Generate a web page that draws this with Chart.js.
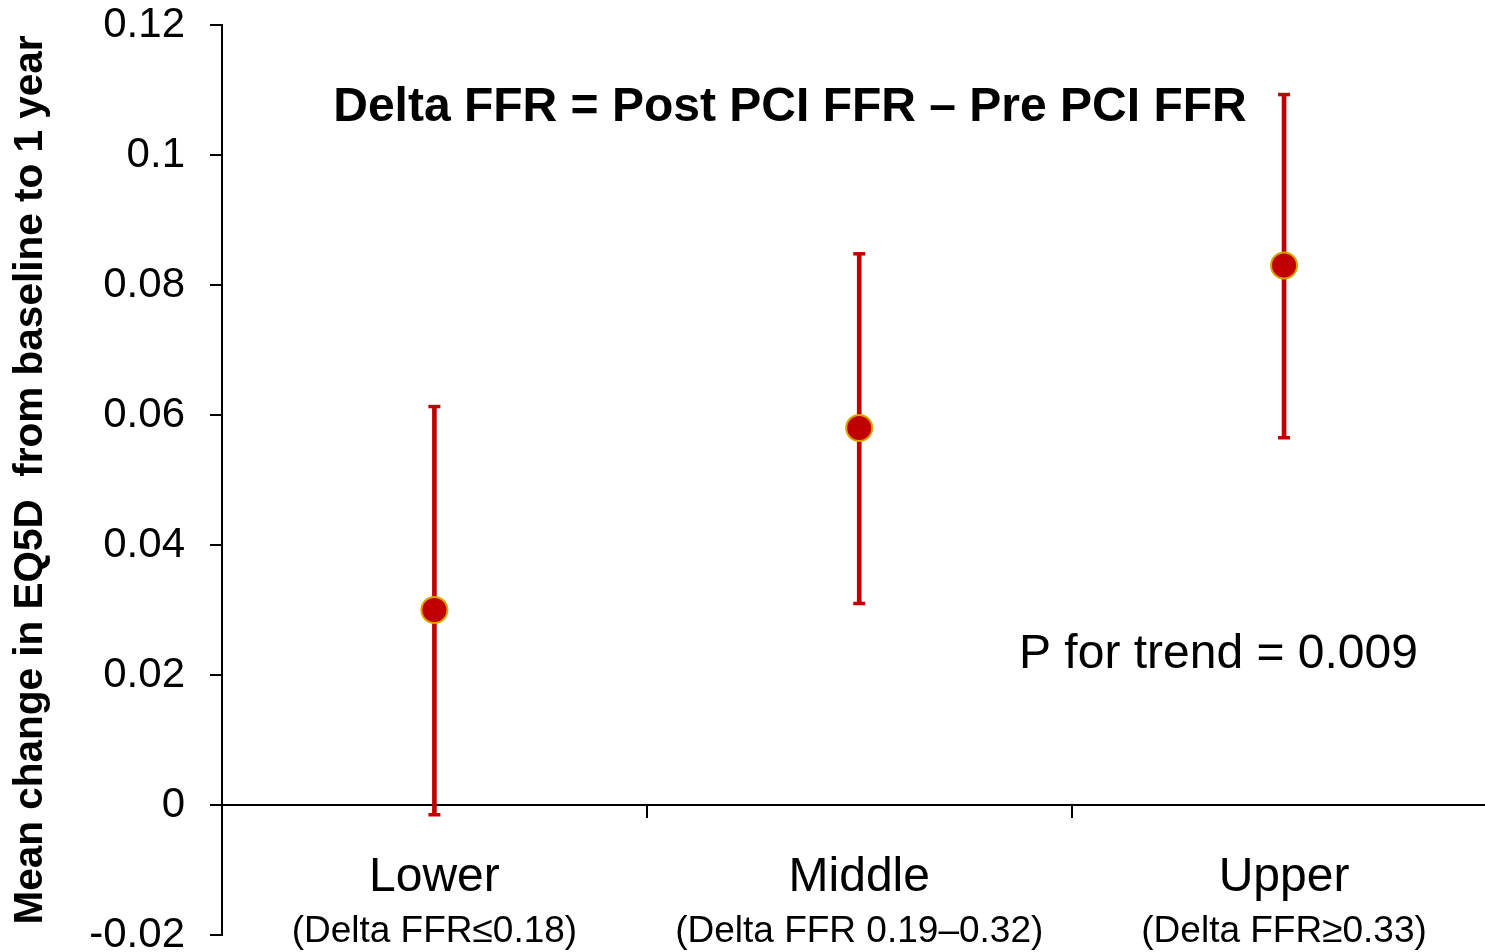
<!DOCTYPE html>
<html lang="en">
<head>
    <meta charset="UTF-8">
    <title>EQ5D change by Delta FFR tertile</title>
    <script src="https://cdn.jsdelivr.net/npm/chart.js"></script>
    <style>
        * {
            margin: 0;
            padding: 0;
            box-sizing: border-box;
        }
        html, body {
            background: #fff;
            overflow: hidden;
        }
        canvas {
            display: block;
        }
    </style>
</head>
<body>
    <canvas id="myChart" width="1485" height="952"></canvas>
    <script>
        // tertiles of Delta FFR
        const groups = ['Lower', 'Middle', 'Upper'];
        const groupRanges = ['(Delta FFR\u22640.18)', '(Delta FFR 0.19\u20130.32)', '(Delta FFR\u22650.33)'];

        // mean change in EQ5D with its confidence interval
        const meanChange = [0.030, 0.058, 0.083];
        const ciLow = [-0.0015, 0.031, 0.0565];
        const ciHigh = [0.0613, 0.0848, 0.1093];

        const yTickLabels = ['-0.02', '0', '0.02', '0.04', '0.06', '0.08', '0.1', '0.12'];

        const FONT = '"Liberation Sans", Arial, sans-serif';
        const RED = '#C00000';

        const pts = arr => arr.map((v, i) => ({ x: i, y: v }));

        // category names, ranges and the two notes inside the plot
        const textPlugin = {
            id: 'ffrText',
            afterDraw(chart) {
                const ctx = chart.ctx;
                const x = chart.scales.x;
                ctx.save();
                ctx.fillStyle = '#000';
                ctx.textAlign = 'center';
                ctx.textBaseline = 'alphabetic';
                groups.forEach((g, i) => {
                    const px = x.getPixelForValue(i);
                    ctx.font = '48px ' + FONT;
                    ctx.fillText(g, px, 891);
                    ctx.font = '37px ' + FONT;
                    ctx.fillText(groupRanges[i], px, 942);
                });

                ctx.font = 'bold 48px ' + FONT;
                ctx.fillText('Delta FFR = Post PCI FFR \u2013 Pre PCI FFR', 790, 121);

                ctx.textAlign = 'left';
                ctx.font = '48px ' + FONT;
                ctx.fillText('P for trend = 0.009', 1019, 668);
                ctx.restore();
            }
        };

        const ctx = document.getElementById('myChart').getContext('2d');
        new Chart(ctx, {
            type: 'bar',
            data: {
                datasets: [
                    {
                        type: 'line',
                        label: 'Mean',
                        data: pts(meanChange),
                        showLine: false,
                        pointRadius: 13,
                        pointBorderWidth: 2,
                        pointBackgroundColor: RED,
                        pointBorderColor: '#D9A300'
                    },
                    {
                        type: 'line',
                        label: 'Upper CI',
                        data: pts(ciHigh),
                        showLine: false,
                        pointStyle: 'line',
                        pointRadius: 6,
                        pointBorderWidth: 3.5,
                        pointBorderColor: RED
                    },
                    {
                        type: 'line',
                        label: 'Lower CI',
                        data: pts(ciLow),
                        showLine: false,
                        pointStyle: 'line',
                        pointRadius: 6,
                        pointBorderWidth: 3.5,
                        pointBorderColor: RED
                    },
                    {
                        label: 'CI',
                        data: groups.map((g, i) => ({ x: i, y: [ciLow[i], ciHigh[i]] })),
                        backgroundColor: RED,
                        barThickness: 4
                    }
                ]
            },
            options: {
                responsive: false,
                animation: false,
                layout: {
                    autoPadding: false,
                    padding: { top: 25, bottom: 17, left: 0, right: 0 }
                },
                scales: {
                    x: {
                        type: 'linear',
                        position: { y: 0 },
                        offset: false,
                        // groups sit at 0,1,2; the last one is cut by the right edge
                        min: -0.5,
                        max: 2.473,
                        afterBuildTicks(scale) {
                            scale.ticks = [-0.5, 0.5, 1.5].map(v => ({ value: v }));
                        },
                        ticks: { display: false },
                        grid: {
                            offset: false,
                            drawOnChartArea: false,
                            drawTicks: true,
                            tickLength: 12,
                            color: '#000',
                            lineWidth: 2
                        },
                        border: { color: '#000', width: 2 },
                        afterFit(scale) {
                            scale.height = 0;
                            scale.paddingLeft = 0;
                            scale.paddingRight = 0;
                        }
                    },
                    y: {
                        min: -0.02,
                        max: 0.12,
                        ticks: {
                            stepSize: 0.02,
                            color: '#000',
                            padding: 25,
                            font: { family: FONT, size: 42 },
                            callback: (v, i) => yTickLabels[i]
                        },
                        grid: {
                            drawOnChartArea: false,
                            drawTicks: true,
                            tickLength: 12,
                            color: '#000',
                            lineWidth: 2
                        },
                        border: { color: '#000', width: 2 },
                        title: {
                            display: true,
                            text: 'Mean change in EQ5D  from baseline to 1 year',
                            color: '#000',
                            padding: { top: 7, bottom: 0 },
                            font: { family: FONT, size: 40.5, weight: 'bold', lineHeight: 1.2 }
                        },
                        afterFit(scale) {
                            scale.width = 222;
                            scale.paddingTop = 0;
                            scale.paddingBottom = 0;
                        }
                    }
                },
                plugins: {
                    legend: { display: false },
                    tooltip: { enabled: false }
                }
            },
            plugins: [textPlugin]
        });
    </script>
</body>
</html>
